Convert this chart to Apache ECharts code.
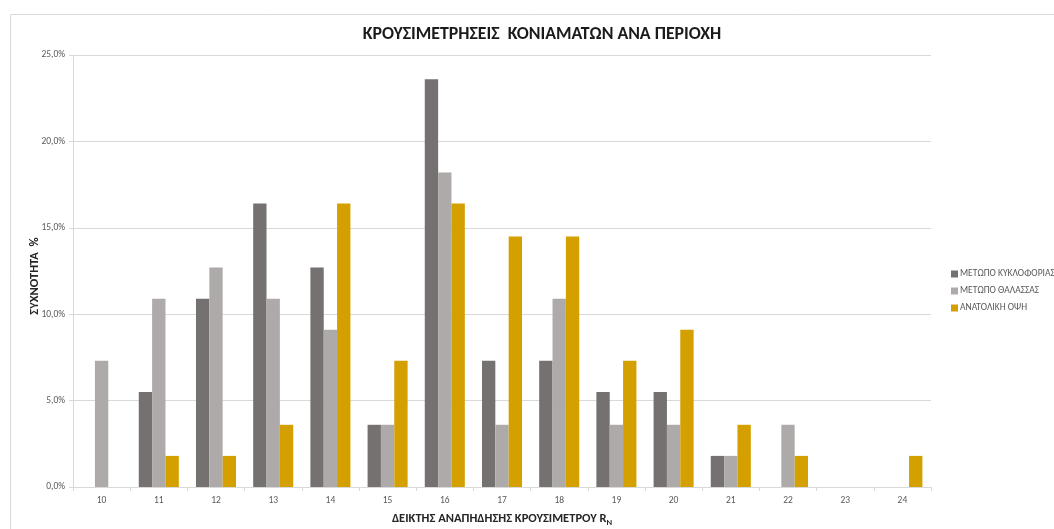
<!DOCTYPE html>
<html>
<head>
<meta charset="utf-8">
<title>ΚΡΟΥΣΙΜΕΤΡΗΣΕΙΣ ΚΟΝΙΑΜΑΤΩΝ ΑΝΑ ΠΕΡΙΟΧΗ</title>
<script src="https://cdn.jsdelivr.net/npm/echarts@6/dist/echarts.min.js"></script>
<style>
  html, body { margin: 0; padding: 0; background: #ffffff; }
  #chart { width: 1054px; height: 529px; }
</style>
</head>
<body>
<div id="chart"></div>
<script>
// Rebound index classes (R_N)
const categories = ['10', '11', '12', '13', '14', '15', '16', '17', '18', '19', '20', '21', '22', '23', '24'];

// Frequency (%) per facade
const trafficFacade = [0, 5.5, 10.9, 16.4, 12.7, 3.6, 23.6, 7.3, 7.3, 5.5, 5.5, 1.8, 0, 0, 0];
const seaFacade     = [7.3, 10.9, 12.7, 10.9, 9.1, 3.6, 18.2, 3.6, 10.9, 3.6, 3.6, 1.8, 3.6, 0, 0];
const eastElevation = [0, 1.8, 1.8, 3.6, 16.4, 7.3, 16.4, 14.5, 14.5, 7.3, 9.1, 3.6, 1.8, 0, 1.8];

const seriesNames = ['ΜΕΤΩΠΟ ΚΥΚΛΟΦΟΡΙΑΣ', 'ΜΕΤΩΠΟ ΘΑΛΑΣΣΑΣ', 'ΑΝΑΤΟΛΙΚΗ ΟΨΗ'];
const yTicks = { min: 0, max: 25, interval: 5 };

const font = 'Calibri, Carlito, Lato, "Open Sans", "DejaVu Sans", sans-serif';
const textColor = '#595959';
const gridColor = '#D9D9D9';

const chart = echarts.init(document.getElementById('chart'), null, { renderer: 'canvas' });

function bar(name, data, color) {
  return {
    name: name,
    type: 'bar',
    data: data,
    barGap: '0%',
    barCategoryGap: '30%',
    itemStyle: { color: color },
    emphasis: { disabled: true }
  };
}

chart.setOption({
  animation: false,
  backgroundColor: '#ffffff',
  textStyle: { fontFamily: font },
  graphic: [{
    type: 'rect',
    shape: { x: 10.5, y: 14.5, width: 1060, height: 530 },
    style: { fill: 'none', stroke: gridColor, lineWidth: 1 },
    silent: true
  }],
  title: {
    text: 'ΚΡΟΥΣΙΜΕΤΡΗΣΕΙΣ  ΚΟΝΙΑΜΑΤΩΝ ΑΝΑ ΠΕΡΙΟΧΗ',
    left: 537,
    top: 21,
    textAlign: 'center',
    textStyle: { fontFamily: font, fontSize: 17.8, fontWeight: 'bold', color: '#1a1a1a' }
  },
  legend: {
    orient: 'vertical',
    left: 946,
    top: 264,
    itemWidth: 7,
    itemHeight: 7,
    itemGap: 7,
    icon: 'rect',
    data: seriesNames,
    textStyle: { fontFamily: font, fontSize: 9.5, color: textColor, padding: [0, 0, 0, -3] }
  },
  grid: { left: 73, right: 123, top: 55, bottom: 42, containLabel: false, outerBoundsMode: 'none' },
  xAxis: {
    type: 'category',
    data: categories,
    boundaryGap: true,
    name: '{b|ΔΕΙΚΤΗΣ ΑΝΑΠΗΔΗΣΗΣ ΚΡΟΥΣΙΜΕΤΡΟΥ R}{s|N}',
    nameLocation: 'middle',
    nameGap: 23,
    nameMoveOverlap: false,
    nameTextStyle: {
      rich: {
        b: { fontFamily: font, fontSize: 12.5, fontWeight: 'bold', color: '#262626' },
        s: { fontFamily: font, fontSize: 8.5, fontWeight: 'bold', color: '#262626', verticalAlign: 'bottom', padding: [8, 0, 0, 0] }
      }
    },
    axisLine: { show: true, lineStyle: { color: gridColor, width: 1 } },
    axisTick: { show: true, length: 4, lineStyle: { color: gridColor } },
    axisLabel: { fontFamily: font, fontSize: 9.5, color: textColor, margin: 9 },
    splitLine: { show: false }
  },
  yAxis: {
    type: 'value',
    min: yTicks.min,
    max: yTicks.max,
    interval: yTicks.interval,
    name: 'ΣΥΧΝΟΤΗΤΑ  %',
    nameLocation: 'middle',
    nameGap: 32,
    nameMoveOverlap: false,
    nameRotate: 90,
    nameTextStyle: { fontFamily: font, fontSize: 12.5, fontWeight: 'bold', color: '#262626', padding: [0, 10, 0, 0] },
    axisLine: { show: true, lineStyle: { color: gridColor, width: 1 } },
    axisTick: { show: true, length: 4, lineStyle: { color: gridColor } },
    axisLabel: {
      fontFamily: font, fontSize: 9.5, color: textColor, margin: 8,
      formatter: v => v.toFixed(1).replace('.', ',') + '%'
    },
    splitLine: { show: true, lineStyle: { color: gridColor, width: 1 } }
  },
  series: [
    bar(seriesNames[0], trafficFacade, '#767171'),
    bar(seriesNames[1], seaFacade, '#AEAAAA'),
    bar(seriesNames[2], eastElevation, '#D4A000')
  ]
});
</script>
</body>
</html>
